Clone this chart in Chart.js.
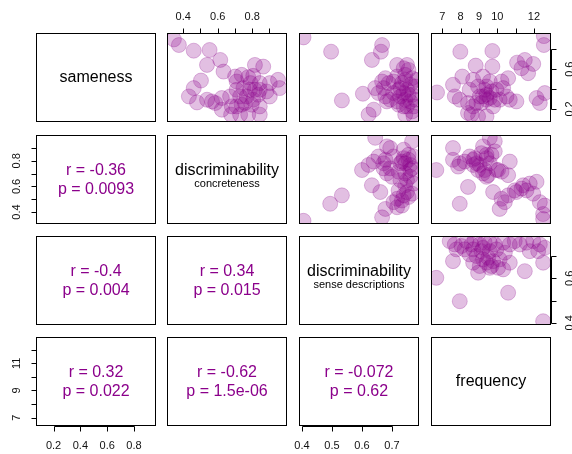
<!DOCTYPE html>
<html>
<head>
<meta charset="utf-8">
<script src="https://cdn.jsdelivr.net/npm/chart.js@4.4.1/dist/chart.umd.min.js"></script>
<style>
  html, body { margin: 0; padding: 0; background: #fff; }
  #wrap { position: relative; width: 572px; height: 454px; overflow: hidden; }
  #wrap canvas { position: absolute; left: 0; top: 0; }
</style>
</head>
<body>
<div id="wrap"></div>
<script>
// ---- variables shown on the diagonal ----
const varTitles = ['sameness', 'discriminability', 'discriminability', 'frequency'];
const varSubtitles = ['', 'concreteness', 'sense descriptions', ''];

// ---- scatter panels (upper triangle): x = column variable, y = row variable ----
const concSame_x = [0.346,0.375,0.461,0.553,0.615,0.538,0.503,0.461,0.433,0.480,0.538,0.567,0.624,0.586,0.634,0.701,0.739,0.672,0.682,0.678,0.730,0.777,0.844,0.816,0.864,0.806,0.791,0.902,0.950,0.959,0.710,0.749,0.844,0.730,0.768,0.806,0.835,0.902,0.758,0.797,0.844,0.710,0.844,0.777,0.883,0.624,0.739,0.787,0.816,0.710];
const concSame_y = [0.900,0.843,0.786,0.793,0.693,0.643,0.486,0.410,0.326,0.266,0.293,0.276,0.310,0.260,0.576,0.526,0.543,0.326,0.226,0.143,0.143,0.143,0.143,0.643,0.626,0.533,0.460,0.460,0.493,0.410,0.393,0.410,0.393,0.326,0.326,0.293,0.343,0.326,0.260,0.243,0.226,0.226,0.460,0.520,0.376,0.193,0.243,0.393,0.393,0.476];

const sensSame_x = [0.405,0.497,0.667,0.663,0.633,0.717,0.750,0.755,0.744,0.678,0.667,0.689,0.717,0.744,0.767,0.644,0.672,0.655,0.728,0.750,0.778,0.603,0.533,0.678,0.694,0.728,0.744,0.761,0.722,0.750,0.772,0.639,0.622,0.744,0.772,0.705,0.717,0.739,0.683,0.767,0.778,0.739,0.761,0.733,0.755,0.722,0.783,0.739,0.705,0.767];
const sensSame_y = [0.920,0.776,0.843,0.776,0.693,0.643,0.643,0.593,0.543,0.510,0.476,0.460,0.526,0.493,0.510,0.410,0.410,0.360,0.410,0.393,0.426,0.353,0.286,0.326,0.293,0.326,0.293,0.276,0.243,0.226,0.226,0.193,0.143,0.143,0.126,0.360,0.276,0.360,0.276,0.343,0.293,0.226,0.443,0.460,0.343,0.393,0.493,0.610,0.476,0.176];

const freqSame_x = [12.54,12.54,7.98,9.73,8.82,9.73,11.08,11.50,11.96,11.68,11.32,6.71,7.58,8.09,7.68,7.95,8.68,9.22,9.59,8.49,8.95,9.41,9.68,10.23,10.59,10.32,10.50,10.68,11.04,10.13,9.22,9.41,9.59,9.13,8.40,8.68,8.86,8.59,8.95,9.41,8.40,12.14,12.32,12.59,9.86,9.95,9.31,9.04,9.77,9.41];
const freqSame_y = [0.933,0.843,0.776,0.783,0.636,0.626,0.666,0.693,0.653,0.560,0.610,0.366,0.443,0.526,0.326,0.293,0.493,0.526,0.476,0.393,0.426,0.426,0.376,0.476,0.510,0.410,0.326,0.293,0.276,0.293,0.326,0.343,0.310,0.260,0.260,0.226,0.260,0.143,0.126,0.126,0.160,0.310,0.260,0.360,0.293,0.393,0.393,0.326,0.226,0.293];

const sensConc_x = [0.644,0.683,0.694,0.767,0.655,0.678,0.739,0.755,0.744,0.761,0.728,0.600,0.622,0.672,0.694,0.683,0.722,0.744,0.761,0.772,0.633,0.661,0.728,0.744,0.722,0.750,0.533,0.494,0.717,0.733,0.755,0.678,0.667,0.733,0.717,0.405,0.772,0.739,0.705,0.672,0.639,0.700,0.761,0.739,0.767,0.750,0.705,0.755,0.733,0.767];
const sensConc_y = [0.980,0.913,0.900,0.953,0.834,0.808,0.821,0.808,0.781,0.768,0.781,0.728,0.768,0.741,0.741,0.702,0.715,0.702,0.675,0.622,0.609,0.556,0.649,0.609,0.569,0.556,0.530,0.464,0.503,0.490,0.517,0.424,0.358,0.450,0.437,0.331,0.834,0.887,0.834,0.781,0.794,0.675,0.728,0.530,0.543,0.649,0.477,0.847,0.794,0.741];

const freqConc_x = [9.59,9.86,7.58,9.22,6.67,7.58,7.95,7.86,8.49,8.68,8.86,8.77,9.04,9.41,9.68,9.86,9.31,9.50,9.41,10.04,10.68,10.23,10.59,8.40,7.95,9.77,10.23,10.13,10.59,10.41,11.04,11.41,11.77,12.14,11.59,11.96,12.32,12.59,12.50,12.50,8.22,9.13,8.95,9.22,9.59,10.95,11.32,9.41,9.95,8.68];
const freqConc_y = [0.980,0.953,0.900,0.913,0.728,0.808,0.781,0.755,0.834,0.808,0.781,0.821,0.768,0.821,0.847,0.874,0.728,0.688,0.675,0.728,0.794,0.715,0.688,0.596,0.464,0.556,0.503,0.424,0.530,0.477,0.556,0.609,0.622,0.636,0.569,0.543,0.477,0.450,0.384,0.345,0.794,0.860,0.728,0.702,0.781,0.569,0.583,0.847,0.728,0.768];

const freqSens_x = [7.40,7.68,8.04,8.31,8.59,8.77,9.04,9.31,9.59,9.86,10.32,10.68,10.95,11.23,11.59,11.96,12.32,12.59,7.77,8.22,8.68,9.13,9.59,9.95,11.77,12.23,8.86,9.22,9.50,9.77,10.13,9.41,9.68,10.04,7.58,8.68,8.95,9.59,10.32,10.68,11.50,12.50,6.67,10.59,7.95,12.50,9.04,8.49,10.41,9.22];
const freqSens_y = [0.767,0.752,0.745,0.767,0.752,0.775,0.752,0.760,0.760,0.752,0.760,0.752,0.767,0.752,0.760,0.767,0.752,0.737,0.730,0.730,0.730,0.722,0.722,0.730,0.722,0.722,0.700,0.685,0.692,0.677,0.685,0.670,0.655,0.647,0.677,0.670,0.625,0.647,0.640,0.670,0.632,0.670,0.602,0.535,0.497,0.407,0.655,0.707,0.715,0.737];

// ---- correlation panels (lower triangle) ----
// order: (2,1) (3,1) (3,2) (4,1) (4,2) (4,3)
const corrR = ['-0.36', '-0.4', '0.34', '0.32', '-0.62', '-0.072'];
const corrP = ['0.0093', '0.004', '0.015', '0.022', '1.5e-06', '0.62'];

// ---- axis ticks ----
const samenessTicks = [0.2, 0.4, 0.6, 0.8];
const samenessBottomLabels = [0.2, 0.4, 0.6, 0.8];
const samenessRightLabels = [0.2, 0.6];
const concretenessTicks = [0.4, 0.5, 0.6, 0.7, 0.8, 0.9];
const concretenessTopLabels = [0.4, 0.6, 0.8];
const concretenessLeftLabels = [0.4, 0.6, 0.8];
const sensesTicks = [0.4, 0.5, 0.6, 0.7];
const sensesBottomLabels = [0.4, 0.5, 0.6, 0.7];
const sensesRightLabels = [0.4, 0.6];
const frequencyTicks = [7, 8, 9, 10, 11, 12];
const frequencyTopLabels = [7, 8, 9, 10, 12];
const frequencyLeftLabels = [7, 9, 11];

// ---- layout ----
const W = 572, H = 454;
const COL_LEFT = [36, 167, 299, 431];
const ROW_TOP = [33, 135, 236, 337];
const BOX_W = 120, BOX_H = 89;
const RANGES = [[0.069, 0.964], [0.306, 1.002], [0.39, 0.79], [6.38, 12.93]];
const FONT = '"Liberation Sans", Arial, Helvetica, sans-serif';
const PURPLE = '#8B008B';

const wrap = document.getElementById('wrap');

function pairs(xs, ys) { return xs.map((v, i) => ({ x: v, y: ys[i] })); }

function drawAxis(ctx, chart, ax) {
  const a = chart.chartArea;
  const horiz = ax.side === 'top' || ax.side === 'bottom';
  const sc = horiz ? chart.scales.x : chart.scales.y;
  const len = 5;
  ctx.save();
  ctx.strokeStyle = '#000';
  ctx.lineWidth = 1;
  ctx.fillStyle = '#111';
  ctx.font = '11px ' + FONT;
  ctx.textAlign = 'center';
  ctx.textBaseline = 'middle';
  const pos = ax.ticks.map(v => Math.round(sc.getPixelForValue(v)) + 0.5);
  ctx.beginPath();
  if (horiz) {
    const y0 = (ax.side === 'top' ? Math.round(a.top) : Math.round(a.bottom)) + 0.5;
    const dir = ax.side === 'top' ? -1 : 1;
    ctx.moveTo(pos[0], y0); ctx.lineTo(pos[pos.length - 1], y0);
    pos.forEach(p => { ctx.moveTo(p, y0); ctx.lineTo(p, y0 + dir * len); });
  } else {
    const x0 = (ax.side === 'left' ? Math.round(a.left) : Math.round(a.right)) + 0.5;
    const dir = ax.side === 'left' ? -1 : 1;
    ctx.moveTo(x0, pos[0]); ctx.lineTo(x0, pos[pos.length - 1]);
    pos.forEach(p => { ctx.moveTo(x0, p); ctx.lineTo(x0 + dir * len, p); });
  }
  ctx.stroke();
  ax.labels.forEach(v => {
    const p = sc.getPixelForValue(v);
    const txt = String(v);
    if (ax.side === 'top') ctx.fillText(txt, p, a.top - 16.5);
    else if (ax.side === 'bottom') ctx.fillText(txt, p, a.bottom + 19.5);
    else {
      const x = ax.side === 'left' ? a.left - 19.5 : a.right + 19;
      ctx.save();
      ctx.translate(x, p);
      ctx.rotate(-Math.PI / 2);
      ctx.fillText(txt, 0, 0);
      ctx.restore();
    }
  });
  ctx.restore();
}

function decor(spec) {
  return {
    id: 'panelDecor',
    afterDatasetsDraw(chart) {
      const ctx = chart.ctx;
      const a = chart.chartArea;
      const cx = (a.left + a.right) / 2, cy = (a.top + a.bottom) / 2;
      ctx.save();
      ctx.textAlign = 'center';
      ctx.textBaseline = 'middle';
      if (spec.title) {
        ctx.fillStyle = '#000';
        ctx.font = '16px ' + FONT;
        if (spec.subtitle) {
          ctx.fillText(spec.title, cx, cy - 9);
          ctx.font = '11px ' + FONT;
          ctx.fillText(spec.subtitle, cx, cy + 4.5);
        } else {
          ctx.fillText(spec.title, cx, cy);
        }
      }
      if (spec.r) {
        ctx.fillStyle = PURPLE;
        ctx.font = '16px ' + FONT;
        ctx.fillText('r = ' + spec.r, cx, cy - 9);
        ctx.fillText('p = ' + spec.p, cx, cy + 10.5);
      }
      ctx.strokeStyle = '#000';
      ctx.lineWidth = 1;
      ctx.strokeRect(Math.round(a.left) + 0.5, Math.round(a.top) + 0.5,
                     Math.round(a.right - a.left) - 1, Math.round(a.bottom - a.top) - 1);
      ctx.restore();
      (spec.axes || []).forEach(ax => drawAxis(ctx, chart, ax));
    }
  };
}

function panel(row, col, points, spec) {
  const cv = document.createElement('canvas');
  cv.width = W; cv.height = H;
  wrap.appendChild(cv);
  const left = COL_LEFT[col], top = ROW_TOP[row];
  const datasets = points ? [{
    data: points,
    pointRadius: 7.5,
    pointBackgroundColor: 'rgba(139,0,139,0.25)',
    pointBorderColor: 'rgba(139,0,139,0.25)',
    pointBorderWidth: 1,
    showLine: false,
    clip: 0
  }] : [];
  new Chart(cv, {
    type: 'scatter',
    data: { datasets },
    options: {
      responsive: false,
      animation: false,
      events: [],
      layout: { autoPadding: false, padding: { left, top, right: W - left - BOX_W, bottom: H - top - BOX_H } },
      plugins: { legend: { display: false }, tooltip: { enabled: false } },
      scales: {
        x: { type: 'linear', display: false, min: RANGES[col][0], max: RANGES[col][1] },
        y: { type: 'linear', display: false, min: RANGES[row][0], max: RANGES[row][1] }
      }
    },
    plugins: [decor(spec)]
  });
}

// diagonal
for (let i = 0; i < 4; i++) {
  panel(i, i, null, { title: varTitles[i], subtitle: varSubtitles[i] });
}

// upper triangle
panel(0, 1, pairs(concSame_x, concSame_y), {
  axes: [{ side: 'top', ticks: concretenessTicks, labels: concretenessTopLabels }]
});
panel(0, 2, pairs(sensSame_x, sensSame_y), {});
panel(0, 3, pairs(freqSame_x, freqSame_y), {
  axes: [{ side: 'top', ticks: frequencyTicks, labels: frequencyTopLabels },
         { side: 'right', ticks: samenessTicks, labels: samenessRightLabels }]
});
panel(1, 2, pairs(sensConc_x, sensConc_y), {});
panel(1, 3, pairs(freqConc_x, freqConc_y), {});
panel(2, 3, pairs(freqSens_x, freqSens_y), {
  axes: [{ side: 'right', ticks: sensesTicks, labels: sensesRightLabels }]
});

// lower triangle
panel(1, 0, null, { r: corrR[0], p: corrP[0],
  axes: [{ side: 'left', ticks: concretenessTicks, labels: concretenessLeftLabels }] });
panel(2, 0, null, { r: corrR[1], p: corrP[1] });
panel(2, 1, null, { r: corrR[2], p: corrP[2] });
panel(3, 0, null, { r: corrR[3], p: corrP[3],
  axes: [{ side: 'left', ticks: frequencyTicks, labels: frequencyLeftLabels },
         { side: 'bottom', ticks: samenessTicks, labels: samenessBottomLabels }] });
panel(3, 1, null, { r: corrR[4], p: corrP[4] });
panel(3, 2, null, { r: corrR[5], p: corrP[5],
  axes: [{ side: 'bottom', ticks: sensesTicks, labels: sensesBottomLabels }] });
</script>
</body>
</html>
